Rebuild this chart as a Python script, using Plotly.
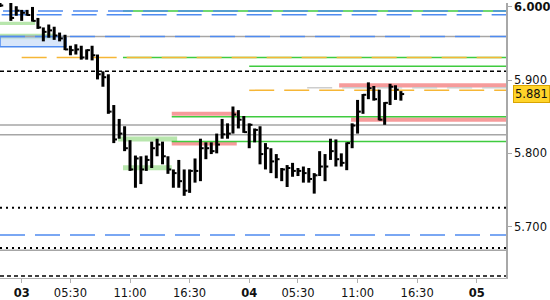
import plotly.graph_objects as go

# ---------------- data ----------------
bar_index = list(range(-4, 71))
highs = [6.019, 6.024, 6.012, 6.001, 5.996, 5.996, 6.000, 5.985, 5.972, 5.976,
         5.973, 5.965, 5.962, 5.947, 5.949, 5.947, 5.942, 5.947, 5.935, 5.912,
         5.908, 5.866, 5.847, 5.837, 5.818, 5.797, 5.796, 5.797, 5.816, 5.820,
         5.816, 5.796, 5.778, 5.791, 5.778, 5.778, 5.793, 5.820, 5.815, 5.815,
         5.827, 5.847, 5.841, 5.864, 5.859, 5.851, 5.841, 5.834, 5.837, 5.814,
         5.807, 5.799, 5.780, 5.784, 5.787, 5.780, 5.782, 5.780, 5.773, 5.803,
         5.799, 5.820, 5.819, 5.800, 5.815, 5.841, 5.873, 5.881, 5.897, 5.892,
         5.887, 5.870, 5.895, 5.893, 5.885]
lows = [6.000, 6.010, 5.981, 5.988, 5.981, 5.988, 5.980, 5.970, 5.953, 5.958,
        5.955, 5.953, 5.941, 5.934, 5.935, 5.928, 5.928, 5.927, 5.901, 5.891,
        5.854, 5.814, 5.820, 5.803, 5.776, 5.753, 5.758, 5.776, 5.780, 5.796,
        5.785, 5.772, 5.753, 5.753, 5.742, 5.746, 5.760, 5.762, 5.792, 5.799,
        5.800, 5.820, 5.820, 5.827, 5.834, 5.828, 5.807, 5.815, 5.785, 5.778,
        5.773, 5.766, 5.762, 5.754, 5.768, 5.769, 5.760, 5.760, 5.745, 5.769,
        5.762, 5.791, 5.782, 5.782, 5.777, 5.807, 5.827, 5.854, 5.874, 5.872,
        5.845, 5.839, 5.866, 5.873, 5.872]
closes = [6.002, 6.014, 5.985, 5.995, 5.992, 5.989, 5.981, 5.972, 5.966, 5.968,
          5.961, 5.957, 5.942, 5.941, 5.942, 5.931, 5.941, 5.934, 5.908, 5.904,
          5.857, 5.819, 5.827, 5.807, 5.778, 5.793, 5.778, 5.791, 5.807, 5.812,
          5.796, 5.778, 5.773, 5.762, 5.749, 5.776, 5.776, 5.807, 5.807, 5.803,
          5.812, 5.826, 5.827, 5.853, 5.846, 5.829, 5.839, 5.832, 5.799, 5.807,
          5.789, 5.792, 5.778, 5.780, 5.776, 5.776, 5.773, 5.765, 5.770, 5.782,
          5.782, 5.803, 5.792, 5.787, 5.814, 5.838, 5.857, 5.880, 5.889, 5.874,
          5.846, 5.869, 5.891, 5.887, 5.881]

tick_index = [0, 9, 20, 31, 42, 51, 62, 73, 84]
tick_labels = ["<b>03</b>", "05:30", "11:00", "16:30", "<b>04</b>",
               "05:30", "11:00", "16:30", "<b>05</b>"]
price_ticks = [5.7, 5.8, 5.9, 6.0]
price_labels = ["5.700", "5.800", "5.900", "<b>6.000</b>"]
last_price = 5.881

X_MIN, X_MAX = -4.0, 89.4
Y_MIN, Y_MAX = 5.6297, 6.0054

# zones: (start, end, low, high)
green_zones = [(-4, 2.5, 5.9752, 5.9797), (-4, 6.2, 5.9558, 5.9635),
               (17.8, 28.7, 5.8162, 5.8230), (18.7, 27.7, 5.7770, 5.7838)]
red_zones = [(58.6, X_MAX, 5.8901, 5.8959), (27.7, 39.7, 5.8514, 5.8568),
             (27.7, 39.7, 5.8108, 5.8170), (60.8, X_MAX, 5.8432, 5.8491)]
blue_box = (-4, 8.2, 5.9455, 5.9595)

# lines: (start, price)
green_lines = [(18.7, 5.9946), (18.7, 5.9311), (42, 5.9189), (27.7, 5.8500), (27.7, 5.8162)]
gray_lines = [(-4, 5.9595), (-4, 5.8388), (-4, 5.8253), (-4, 5.6676)]
blue_dash_lines = [(-3.45, 5.9946), (-3.7, 5.9892), (-4, 5.9595), (-4, 5.6883)]
orange_dash_lines = [(0, 5.9311), (42, 5.8861)]
lightgray_dash_lines = [(52.7, 5.8895)]
black_dash_lines = [(-4, 5.9122), (-4, 5.6324)]
black_dot_lines = [(-4, 5.7257), (-4, 5.6707)]

BLUE = "#4f8bf0"
GREEN = "#3fcb3f"
ORANGE = "#f6b636"
GRAY = "#a6a6a6"
LGRAY = "#cdcdcd"
FONT = "DejaVu Sans"

shapes = []
for x0, x1, lo, hi in green_zones:
    shapes.append(dict(type="rect", xref="x", yref="y", x0=x0, x1=x1, y0=lo, y1=hi,
                       fillcolor="#b8e6ad", line=dict(width=0), layer="below"))
x0, x1, lo, hi = blue_box
shapes.append(dict(type="rect", xref="x", yref="y", x0=x0, x1=x1, y0=lo, y1=hi,
                   fillcolor="rgba(200,220,248,0.7)", line=dict(color=BLUE, width=1.5),
                   layer="below"))
for x0, x1, lo, hi in red_zones:
    shapes.append(dict(type="rect", xref="x", yref="y", x0=x0, x1=x1, y0=lo, y1=hi,
                       fillcolor="#f69b9b", line=dict(width=0), layer="below"))


def hline(x0, y, color, width, dash="solid"):
    shapes.append(dict(type="line", xref="x", yref="y", x0=x0, x1=X_MAX, y0=y, y1=y,
                       line=dict(color=color, width=width, dash=dash), layer="below"))


for x0, y in gray_lines:
    hline(x0, y, GRAY, 1.5)
for x0, y in green_lines:
    hline(x0, y, GREEN, 1.5)
for x0, y in blue_dash_lines:
    hline(x0, y, BLUE, 1.5, "25px,10px")
for x0, y in orange_dash_lines:
    hline(x0, y, ORANGE, 1.5, "25px,10px")
for x0, y in lightgray_dash_lines:
    hline(x0, y, LGRAY, 1.5, "25px,10px")
for x0, y in black_dash_lines:
    hline(x0, y, "black", 1.5, "4px,3px")
for x0, y in black_dot_lines:
    hline(x0, y, "black", 2, "2px,4px")

# HLC bars built from the data arrays (stem high-low, close tick to the right)
stem_x, stem_y, tick_x, tick_y = [], [], [], []
for i, h, l, c in zip(bar_index, highs, lows, closes):
    stem_x += [i, i, None]
    stem_y += [l, h, None]
    tick_x += [i, i + 0.6, None]
    tick_y += [c, c, None]

fig = go.Figure()
fig.add_trace(go.Scatter(x=stem_x, y=stem_y, mode="lines",
                         line=dict(color="black", width=3),
                         hoverinfo="skip", showlegend=False))
fig.add_trace(go.Scatter(x=tick_x, y=tick_y, mode="lines",
                         line=dict(color="black", width=2),
                         hoverinfo="skip", showlegend=False))

fig.update_layout(
    width=550, height=300,
    margin=dict(l=0, r=44, t=0, b=22, pad=0),
    paper_bgcolor="white", plot_bgcolor="white",
    showlegend=False,
    shapes=shapes,
    font=dict(family=FONT, size=11.5, color="#111111"),
    xaxis=dict(range=[X_MIN, X_MAX], tickmode="array", tickvals=tick_index,
               ticktext=tick_labels, showgrid=False, zeroline=False,
               showline=True, linecolor="#b0b0b0", linewidth=1,
               ticks="outside", ticklen=4, tickcolor="#b0b0b0",
               tickfont=dict(family=FONT, size=11.5, color="#111111")),
    yaxis=dict(range=[Y_MIN, Y_MAX], side="right", tickmode="array",
               tickvals=price_ticks, ticktext=price_labels, showgrid=False,
               zeroline=False, showline=True, linecolor="#a8a8a8", linewidth=1.5,
               ticks="outside", ticklen=4, tickcolor="#a8a8a8",
               ticklabeloverflow="allow",
               tickfont=dict(family=FONT, size=11.5, color="#111111")),
    annotations=[dict(x=1, xref="paper", xshift=7, xanchor="left",
                      y=last_price, yref="y", text="5.881", showarrow=False,
                      bgcolor="#ffd42a", bordercolor="#d9a400", borderwidth=1,
                      borderpad=1, font=dict(family=FONT, size=11.5, color="#111111"))],
)

fig.write_html("out.html")
